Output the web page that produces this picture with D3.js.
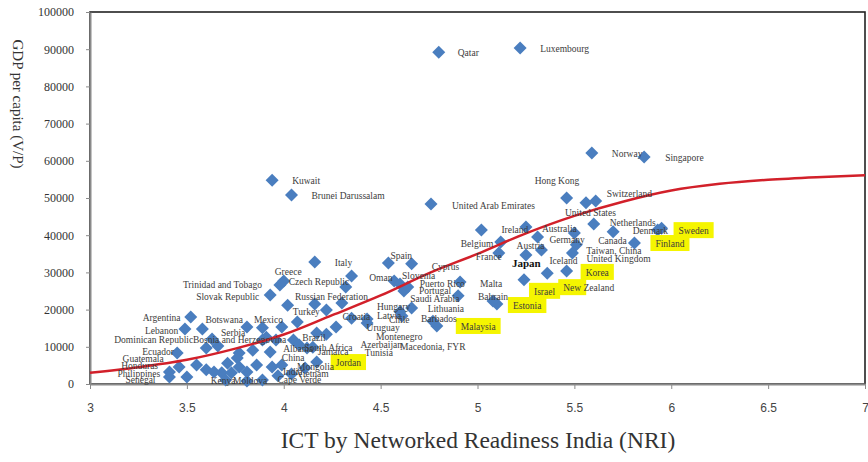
<!DOCTYPE html>
<html><head><meta charset="utf-8">
<script src="https://cdn.jsdelivr.net/npm/d3@7"></script>
<style>body{margin:0;background:#fff}</style>
</head><body><svg id="c" width="868" height="462"></svg>
<script>
// ---------------- DATA ----------------
const countries = ["Qatar","Luxembourg","Norway","Singapore","Kuwait","Brunei Darussalam","United Arab Emirates","Hong Kong","Switzerland","United States",
"Netherlands","Denmark","Sweden","Canada","Finland","Taiwan, China","United Kingdom","Germany","Korea","New Zealand",
"Iceland","Japan","Austria","Australia","Ireland","Belgium","France","Israel","Estonia","Bahrain",
"Malta","Saudi Arabia","Spain","Cyprus","Oman","Slovenia","Portugal","Puerto Rico","Lithuania","Hungary",
"Chile","Latvia","Malaysia","Barbados","Uruguay","Montenegro","Azerbaijan","Tunisia","Macedonia, FYR","Jordan",
"Italy","Greece","Trinidad and Tobago","Slovak Republic","Czech Republic","Poland","Russian Federation","Turkey","Croatia","Kazakhstan",
"Argentina","Lebanon","Botswana","Serbia","Bosnia and Herzegovina","Dominican Republic","Ecuador","Mexico","Costa Rica","Panama",
"Mauritius","Brazil","Romania","Bulgaria","Colombia","Peru","Ukraine","Thailand","Armenia","Georgia",
"Egypt","Sri Lanka","Indonesia","China","Mongolia","Kenya","Moldova","Cape Verde","Vietnam","India",
"Nicaragua","Paraguay","Guatemala","Honduras","Philippines","Senegal","Bolivia","Morocco","El Salvador","Pakistan",
"South Africa","Jamaica","Albania"];
const nri = [4.80,5.22,5.59,5.86,3.94,4.04,4.76,5.46,5.61,5.56,
5.60,5.93,5.95,5.70,5.81,5.51,5.49,5.50,5.46,5.36,
5.33,5.25,5.31,5.25,5.02,5.12,5.11,5.24,5.10,5.08,
4.91,4.90,4.54,4.66,4.57,4.60,4.62,4.64,4.66,4.60,
4.61,4.43,4.79,4.77,4.35,4.27,4.22,4.17,4.43,4.17,
4.16,4.00,3.98,3.93,4.32,4.35,4.30,4.16,4.22,4.02,
3.52,3.49,3.58,3.63,3.66,3.60,3.45,3.81,3.89,3.99,
4.07,3.91,3.96,4.05,4.12,3.84,3.89,3.77,3.76,3.71,
3.77,3.86,3.94,3.99,4.11,3.70,3.81,3.89,4.04,3.97,
3.68,3.60,3.55,3.46,3.41,3.41,3.50,3.64,3.73,3.81,
4.08,4.15,3.93];
const gdp = [89200,90300,62100,61000,54800,50800,48400,50000,49200,48700,
43000,41400,41900,40900,37900,37400,35200,40600,30400,29800,
36000,34700,39500,42200,41400,38200,35200,28000,21500,22300,
27400,23700,32500,32300,27700,26900,25000,26100,20400,19400,
18300,17500,15600,16900,17700,15300,13400,13700,16400,5900,
32800,27700,26600,23900,26100,29000,21800,21500,19900,21200,
18000,14800,14800,12100,10200,9700,8300,15300,15100,15300,
16700,12600,11800,11800,9700,9100,11800,8300,7000,5600,
4600,5100,4600,5100,4300,1100,800,1100,2700,2200,
3000,3800,5100,4600,3200,1900,1900,3200,3000,3200,
10500,9900,8600];
const highlighted = {"Sweden":0,"Finland":0,"Korea":0,"New Zealand":3,"Israel":0,"Estonia":0,"Malaysia":0,"Jordan":0};
const boldLabels = ["Japan"];
const trendNri = [3,3.25,3.5,3.75,4,4.25,4.5,4.75,5,5.25,5.5,5.75,6,6.25,6.5,6.75,7];
const trendGdp = [3000,4500,6500,9500,13300,18500,23800,29800,35000,40500,45200,49000,52000,53800,54900,55600,56100];
const xTicks = [3,3.5,4,4.5,5,5.5,6,6.5,7];
const xTickLabels = ["3","3.5","4","4.5","5","5.5","6","6.5","7"];
const yTicks = [0,10000,20000,30000,40000,50000,60000,70000,80000,90000,100000];
const xTitle = "ICT by Networked Readiness India (NRI)";
const yTitle = "GDP per capita (V/P)";

// ---------------- LAYOUT (label offsets in px from marker) ----------------
const labelOffsets = {
"Qatar":[19,4],"Luxembourg":[20,4],"Norway":[20,4],"Singapore":[21,4],"Kuwait":[20,4],"Brunei Darussalam":[20,4],
"United Arab Emirates":[21,5],"Hong Kong":[-32,-14],"Switzerland":[11,-4],"United States":[-21,13],"Netherlands":[16,2],
"Denmark":[-25,4],"Sweden":[17,6],"Canada":[-15,12],"Finland":[21,4],"Taiwan, China":[10,9],"United Kingdom":[14,9],
"Germany":[-25,10],"Korea":[19,5],"New Zealand":[16,18],"Iceland":[8,14],"Japan":[-14,12],"Austria":[-21,12],
"Australia":[16,5],"Ireland":[20,3],"Belgium":[-40,5],"France":[-23,7],"Israel":[10,15],"Estonia":[16,5],
"Bahrain":[-15,-1],"Malta":[20,5],"Saudi Arabia":[-48,6],"Spain":[2,-4],"Cyprus":[20,6],"Oman":[-25,0],
"Slovenia":[2,-5],"Portugal":[15,3],"Puerto Rico":[12,0],"Lithuania":[16,4],"Hungary":[-23,-2],"Chile":[-13,7],
"Latvia":[10,0],"Malaysia":[24,4],"Barbados":[-12,1],"Uruguay":[15,13],"Montenegro":[40,13],"Azerbaijan":[34,14],
"Tunisia":[48,23],"Macedonia, FYR":[33,27],"Jordan":[19,4],"Italy":[20,4],"Greece":[-9,-6],"Czech Republic":[-57,-2],
"Trinidad and Tobago":[-97,3],"Slovak Republic":[-74,5],"Russian Federation":[-47,-3],"Turkey":[-22,11],"Croatia":[16,10],
"Argentina":[-48,4],"Lebanon":[-40,5],"Botswana":[3,-6],"Serbia":[9,-3],"Mexico":[7,-4],"Dominican Republic":[-92,-5],
"Bosnia and Herzegovina":[-25,-3],"Ecuador":[-35,2],"Guatemala":[-74,-3],"Honduras":[-58,2],"Philippines":[-52,5],
"Senegal":[-44,6],"Kenya":[-15,4],"Moldova":[-14,3],"Cape Verde":[15,3],"India":[5,-1],"Vietnam":[5,3],"China":[0,-4],
"Mongolia":[-8,2],"Albania":[13,0],"South Africa":[5,6],"Jamaica":[5,8],"Brazil":[36,4]
};

// ---------------- CHART ----------------
const svg = d3.select("#c");
const x = d3.scaleLinear().domain([3,7]).range([90,865]);
const y = d3.scaleLinear().domain([0,100000]).range([384,12]);

svg.append("rect").attr("width",868).attr("height",462).attr("fill","#fff");
// frame
svg.append("rect").attr("x",x(3)).attr("y",y(100000)).attr("width",x(7)-x(3)).attr("height",y(0)-y(100000))
  .attr("fill","none").attr("stroke","#222").attr("stroke-width",1.6);

const ya = svg.append("g").attr("transform",`translate(${x(3)},0)`)
  .call(d3.axisLeft(y).tickValues(yTicks).tickSize(4).tickSizeOuter(0).tickPadding(12).tickFormat(d=>String(d)));
ya.select(".domain").attr("stroke","#8a8a8a").attr("stroke-width",2);
ya.selectAll(".tick line").attr("stroke","#8a8a8a");
ya.selectAll(".tick text").attr("font-family","'Liberation Serif', serif").attr("font-size",12).attr("fill","#333");

const xa = svg.append("g").attr("transform",`translate(0,${y(0)})`)
  .call(d3.axisBottom(x).tickValues(xTicks).tickSize(5).tickSizeOuter(0).tickPadding(14).tickFormat((d,i)=>xTickLabels[i]));
xa.select(".domain").attr("stroke","#8a8a8a").attr("stroke-width",2);
xa.selectAll(".tick line").attr("stroke","#8a8a8a");
xa.selectAll(".tick text").attr("font-family","'Liberation Sans Narrow','Liberation Sans',sans-serif").attr("font-size",12).attr("fill","#444");

// titles
svg.append("text").attr("x",478).attr("y",448).attr("text-anchor","middle")
  .attr("font-family","'Liberation Serif', serif").attr("font-size",23.5).attr("fill","#333").text(xTitle);
svg.append("text").attr("transform","translate(13,104) rotate(90)").attr("text-anchor","middle")
  .attr("font-family","'Liberation Serif', serif").attr("font-size",15).attr("fill","#333").text(yTitle);

// points
const pts = countries.map((c,i)=>({name:c, nri:nri[i], gdp:gdp[i]}));
const diamond = "M0,-6.5L6.5,0L0,6.5L-6.5,0Z";
svg.append("g").selectAll("path").data(pts).join("path")
  .attr("d",diamond).attr("transform",d=>`translate(${x(d.nri)},${y(d.gdp)})`)
  .attr("fill","#4a7ebf");

// trend line
const trend = trendNri.map((v,i)=>[v,trendGdp[i]]);
svg.append("path").datum(trend)
  .attr("d",d3.line().x(d=>x(d[0])).y(d=>y(d[1])).curve(d3.curveMonotoneX))
  .attr("fill","none").attr("stroke","#d2202a").attr("stroke-width",2.5);

// labels
const lg = svg.append("g");
pts.forEach(p=>{
  const off = labelOffsets[p.name];
  if(!off) return;
  const lx = x(p.nri)+off[0], ly = y(p.gdp)+off[1];
  const g = lg.append("g");
  const bold = boldLabels.includes(p.name);
  const t = g.append("text").attr("x",lx).attr("y",ly)
    .attr("font-family","'Liberation Serif', serif")
    .attr("fill",bold?"#111":"#3c3c3c")
    .attr("font-weight",bold?"bold":"normal")
    .attr("font-size",bold?11:9.5)
    .text(p.name);
  if(p.name in highlighted){
    const n = highlighted[p.name];
    const w = n>0 ? t.node().getSubStringLength(0,n) : t.node().getComputedTextLength();
    g.insert("rect","text").attr("x",lx-5).attr("y",ly-12).attr("width",w+10).attr("height",16).attr("fill","#f5f500");
  }
});
</script>
</body></html>
